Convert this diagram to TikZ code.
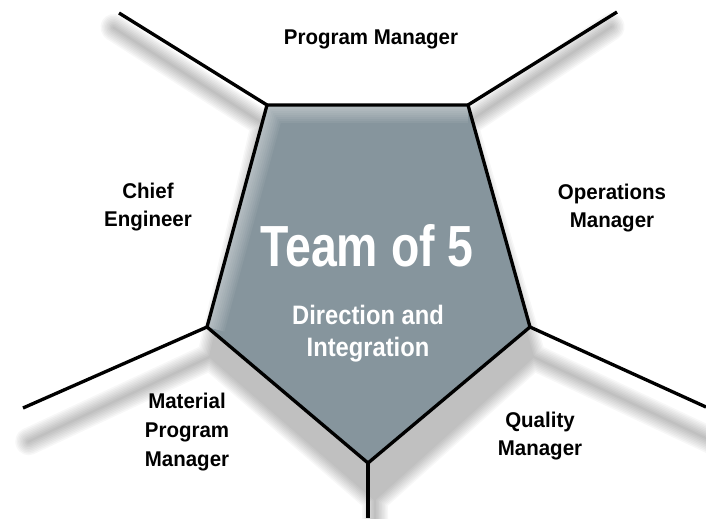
\documentclass[tikz,border=0pt]{standalone}
\usepackage{fontspec}
\setmainfont{Liberation Sans}
\newfontfamily\rolefont[FakeStretch=0.96]{Liberation Sans}
\newfontfamily\teamfont[FakeStretch=0.8]{Liberation Sans}
\newfontfamily\subfont[FakeStretch=0.89]{Liberation Sans}
\definecolor{slate}{RGB}{134,149,157}

\begin{document}
\begin{tikzpicture}[x=0.75pt,y=-0.75pt,
     spoke/.style={line width=2.5pt},
     blurpass/.style={transparency group,opacity=0.03},
     sheen/.style={white,opacity=0.06,line join=round},
     role/.style={font=\rolefont\fontsize{16}{21.5}\selectfont\bfseries,align=center},
     teamlab/.style={font=\teamfont\fontsize{43.5}{46}\selectfont\bfseries,text=white},
     sublab/.style={font=\subfont\fontsize{20}{24}\selectfont\bfseries,text=white,align=center}]
  \useasboundingbox (0,0) rectangle (706,518);
  % pentagon corners and spoke ends
  \coordinate (tl) at (267,105);
  \coordinate (tr) at (468,105);
  \coordinate (r) at (530,327);
  \coordinate (b) at (368,463);
  \coordinate (l) at (207,327);
  \coordinate (tlend) at (119,13);
  \coordinate (trend) at (617,12);
  \coordinate (rend) at (706,407);
  \coordinate (bend) at (368,518);
  \coordinate (lend) at (23,408);
  % soft shadow
  \begin{scope}[transform canvas={cm={1,0,-0.027,1.048,(-4.34pt,-10.56pt)}}]
    \foreach \w in {2,5,...,26}{
      \begin{scope}[blurpass]
        \filldraw[black,line width=\w*0.75pt,line join=round,line cap=round]
          (tl)--(tr)--(r)--(b)--(l)--cycle
          (tl)--(tlend) (tr)--(trend) (r)--(rend) (b)--(bend) (l)--(lend);
      \end{scope}}
  \end{scope}
  % pentagon
  \fill[slate] (tl)--(tr)--(r)--(b)--(l)--cycle;
  \begin{scope}
    \clip (tl)--(tr)--(r)--(b)--(l)--cycle;
    \foreach \w in {4,8,...,36}
      \draw[sheen,line width=\w*0.75pt] (l)--(tl)--(tr);
  \end{scope}
  \draw[spoke] (tl)--(tr)--(r)--(b)--(l)--cycle;
  \draw[spoke] (tl)--(tlend);
  \draw[spoke] (tr)--(trend);
  \draw[spoke] (r)--(rend);
  \draw[spoke] (b)--(bend);
  \draw[spoke] (l)--(lend);
  % labels
  \node[role] (pm) at (371,39) {Program Manager};
  \node[role] (ce) at (148,207) {Chief\\Engineer};
  \node[role] (om) at (612,208) {Operations\\Manager};
  \node[role] (mpm) at (187,432) {Material\\Program\\Manager};
  \node[role] (qm) at (540,436) {Quality\\Manager};
  \node[teamlab] (team) at (367,246) {Team of 5};
  \node[sublab] (dir) at (368,334) {Direction and\\Integration};
\end{tikzpicture}
\end{document}
